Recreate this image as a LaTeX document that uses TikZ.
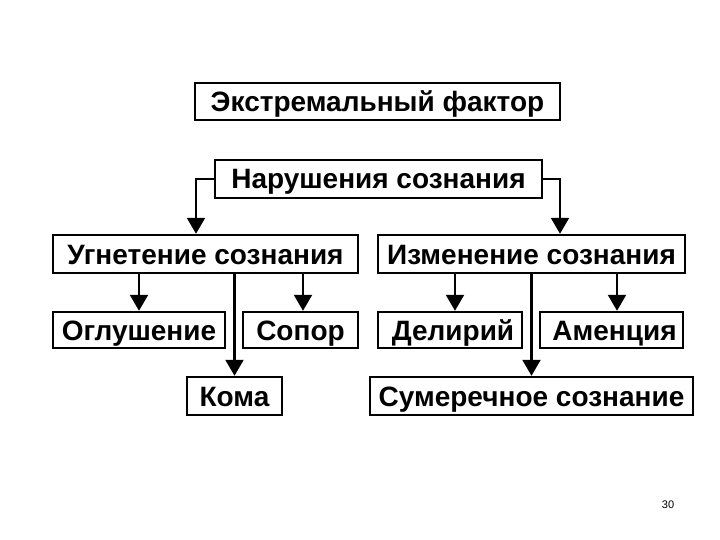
\documentclass[tikz,border=0pt]{standalone}
\usepackage{fontspec}
\setmainfont{Liberation Sans}
\usetikzlibrary{arrows.meta}
\tikzset{
  box/.style={draw=black, line width=2.4pt, inner sep=0pt, fill=white,
    text height=20pt, text depth=0pt,
    font=\fontsize{28}{31}\selectfont\bfseries},
  conn/.style={line width=2.2pt, -{Triangle[width=18pt,length=16pt]}},
  pagenum/.style={font=\fontsize{11}{13}\selectfont, inner sep=0pt}
}
\begin{document}
\begin{tikzpicture}[x=1pt,y=-1pt]
\useasboundingbox (0,0) rectangle (720,540);
\fill[white] (0,0) rectangle (720,540);
% boxes
\node[box, minimum width=365pt, minimum height=37pt] (ef) at (377.5,101.5) {Экстремальный фактор};
\node[box, minimum width=327pt, minimum height=38pt] (ns) at (378.5,179) {Нарушения сознания};
\node[box, minimum width=305pt, minimum height=38pt] (ug) at (205.5,254) {Угнетение сознания};
\node[box, minimum width=307pt, minimum height=38pt] (iz) at (531.5,254) {Изменение сознания};
\node[box, minimum width=172pt, minimum height=36pt] (og) at (139,330) {Оглушение};
\node[box, minimum width=115pt, minimum height=36pt] (so) at (300.5,330) {Сопор};
\node[box, minimum width=144pt, minimum height=36pt] (de) at (450,330) {\hspace{6pt}Делирий};
\node[box, minimum width=143pt, minimum height=36pt] (am) at (611.5,330) {\hspace{6pt}Аменция};
\node[box, minimum width=95pt, minimum height=38pt] (ko) at (234.5,396) {Кома};
\node[box, minimum width=323pt, minimum height=38pt] (su) at (531.5,396) {Сумеречное сознание};
% connectors
\draw[conn] (ns.west) -| ([xshift=-9.5pt]ug.north);
\draw[conn] (ns.east) -| ([xshift=28.5pt]iz.north);
\draw[conn] (ug.south -| og.north) -- (og.north);
\draw[conn] ([xshift=2.5pt]ug.south -| so.north) -- ([xshift=2.5pt]so.north);
\draw[conn] (ug.south -| ko.north) -- (ko.north);
\draw[conn] ([xshift=5pt]iz.south -| de.north) -- ([xshift=5pt]de.north);
\draw[conn] ([xshift=5.5pt]iz.south -| am.north) -- ([xshift=5.5pt]am.north);
\draw[conn] (iz.south -| su.north) -- (su.north);
% page number
\node[pagenum] (pn) at (668,505) {30};
\end{tikzpicture}
\end{document}
